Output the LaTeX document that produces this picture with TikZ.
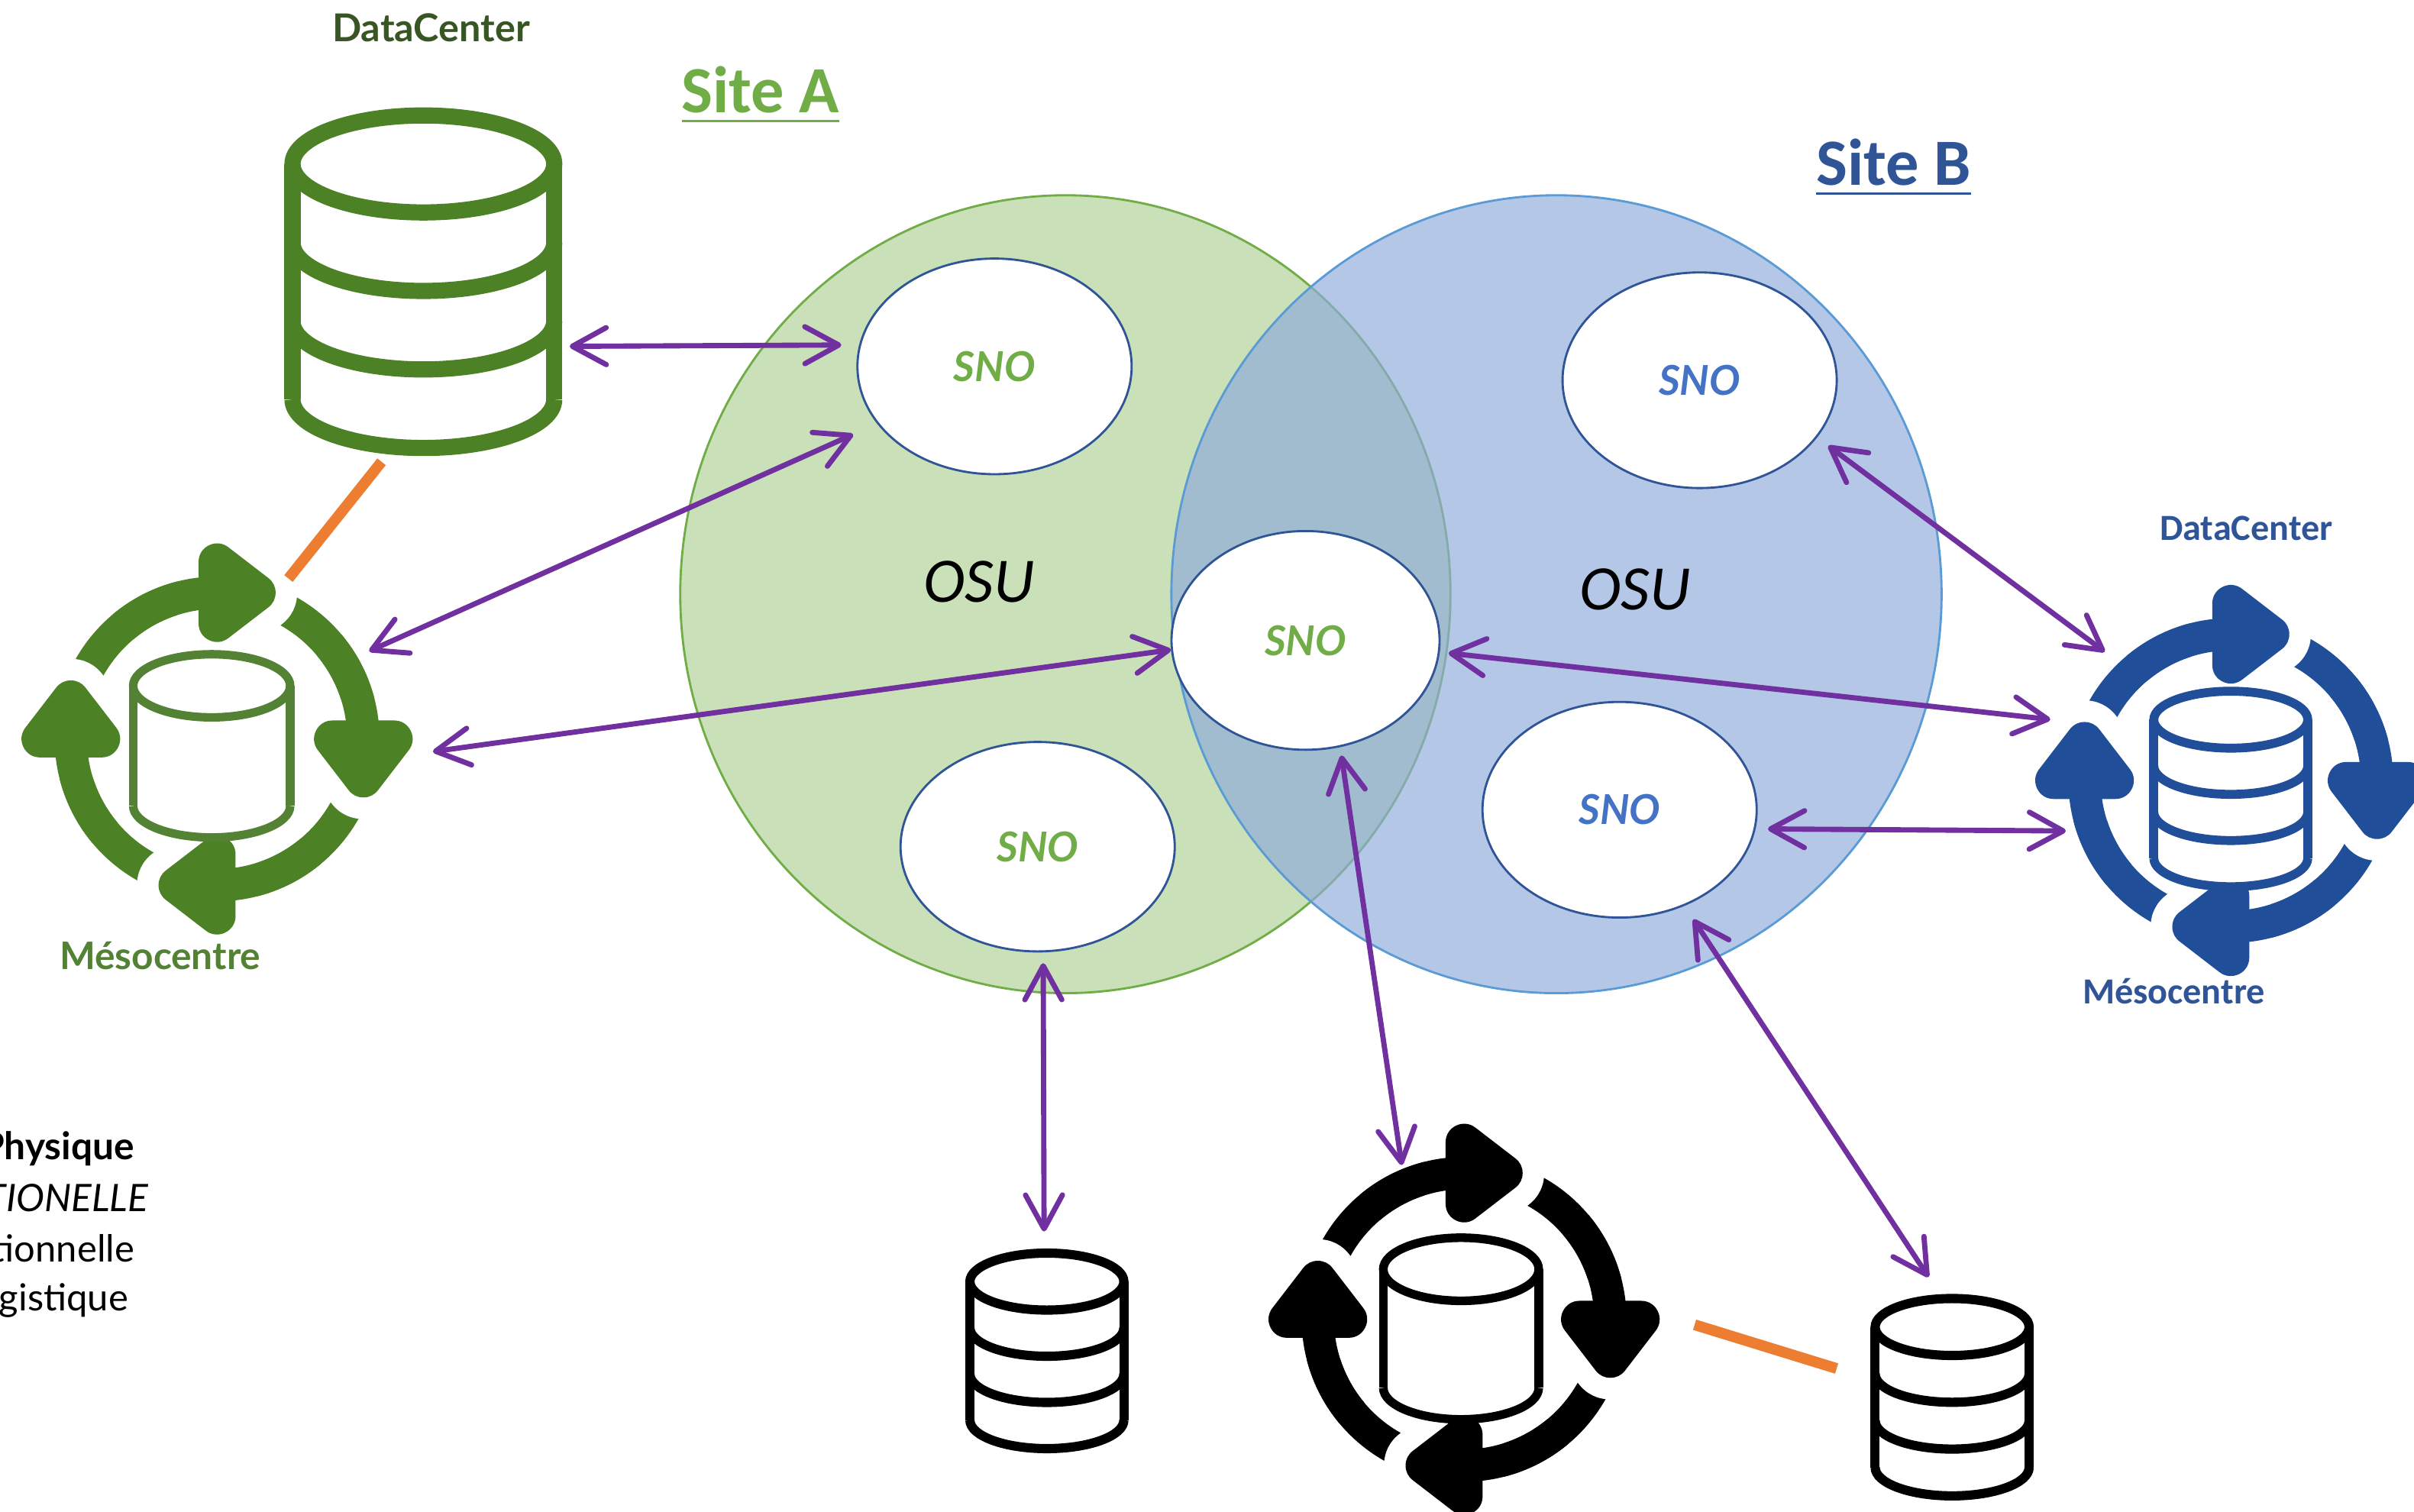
\documentclass[tikz,border=0pt]{standalone}
\usepackage{fontspec}
\setmainfont{Lato}
\newfontfamily\calfont{Carlito}
\usetikzlibrary{shapes.geometric,arrows.meta}

\definecolor{siteGreen}{HTML}{70AD47}
\definecolor{ringGreen}{HTML}{4C8225}
\definecolor{cylGreen}{HTML}{548235}
\definecolor{textGreen}{HTML}{375623}
\definecolor{siteBlue}{HTML}{2F5597}
\definecolor{ringBlue}{HTML}{204E99}
\definecolor{snoBlue}{HTML}{4472C4}
\definecolor{osuBlue}{HTML}{5B9BD5}
\definecolor{linkPurple}{HTML}{7030A0}
\definecolor{tieOrange}{HTML}{ED7D31}

\tikzset{
    osu/.style={ellipse, minimum width=5cm, minimum height=5.18cm, inner sep=0pt},
    sno/.style={ellipse, draw=siteBlue, line width=0.4pt, fill=white, minimum width=1.78cm, minimum height=1.4cm, inner sep=0pt, font=\fontsize{7.6}{10}\selectfont\bfseries\itshape},
    spot/.style={circle, inner sep=0pt, outer sep=0pt},
    box/.style={rectangle, inner sep=0pt, outer sep=0pt},
    link/.style={draw=linkPurple, line width=0.034cm, {Straight Barb[length=0.22cm,width=0.24cm,round]}-{Straight Barb[length=0.22cm,width=0.24cm,round]}},
    tie/.style={draw=tieOrange, line width=0.07cm},
    side/.style={inner sep=0pt, anchor=east, font=\fontsize{6.9}{8}\selectfont}
}

% cx, cy, colour
\newcommand{\cycleicon}[3]{
    \begin{scope}[shift={(#1,#2)}, x=0.01cm, y=0.01cm]
        \foreach \a in {0,90,180,270}
            \draw[rotate=\a, #3, line width=0.21cm] (75:95) arc[start angle=75, end angle=0, radius=95];
        \foreach \a in {0,90,180,270}
            \draw[rotate=\a, white, line width=0.52cm, line join=round] (75,0) -- (115,0) -- (95,-26) -- cycle;
        \foreach \a in {0,90,180,270} {
            \draw[rotate=\a, #3, line width=0.21cm] (40:95) arc[start angle=40, end angle=0, radius=95];
            \filldraw[rotate=\a, #3, line width=0.24cm, line join=round] (75,0) -- (115,0) -- (95,-26) -- cycle;
        }
    \end{scope}
}

% cx, top, half width, ellipse radius, section height, sections, line width, colour
\newcommand{\dbicon}[8]{
    \begin{scope}[shift={(#1,#2)}, x=0.01cm, y=0.01cm, draw=#8, line width=#7]
        \fill[white] (-#3,-#4) arc[start angle=180, end angle=0, x radius=#3, y radius=#4] -- (#3,-#4-#6*#5) arc[start angle=360, end angle=180, x radius=#3, y radius=#4] -- cycle;
        \draw (0,-#4) ellipse[x radius=#3, y radius=#4];
        \draw (-#3,-#4) -- (-#3,-#4-#6*#5);
        \draw (#3,-#4) -- (#3,-#4-#6*#5);
        \foreach \i in {1,...,#6}
            \draw (-#3,-#4-\i*#5) arc[start angle=180, end angle=360, x radius=#3, y radius=#4];
    \end{scope}
}

\begin{document}
\begin{tikzpicture}[x=0.01cm, y=-0.01cm]
    \useasboundingbox (0,0) rectangle (1568,982);

    % the two sites
    \node [osu, draw=siteGreen, fill=siteGreen!38] (osuA) at (692,386) {};
    \node [osu, draw=osuBlue, fill={rgb,255:red,143;green,171;blue,219}, fill opacity=0.67] (osuB) at (1011,386) {};

    \node [text=siteGreen, font=\fontsize{12.2}{14}\selectfont\calfont\bfseries] (siteA) at (494,62) {\underline{Site A}};
    \node [text=siteBlue, font=\fontsize{12.2}{14}\selectfont\calfont\bfseries] (siteB) at (1230,109) {\underline{Site B}};
    \node [font=\fontsize{11.7}{14}\selectfont\calfont\itshape] (osuLabelA) at (636,378) {OSU};
    \node [font=\fontsize{11.7}{14}\selectfont\calfont\itshape] (osuLabelB) at (1062,383) {OSU};

    \node [sno, text=siteGreen] (snoA1) at (646,238) {SNO};
    \node [sno, text=siteGreen, minimum width=1.74cm, minimum height=1.42cm] (snoA2) at (848,416) {SNO};
    \node [sno, text=siteGreen, minimum height=1.36cm] (snoA3) at (674,550) {SNO};
    \node [sno, text=snoBlue] (snoB1) at (1104,247) {SNO};
    \node [sno, text=snoBlue] (snoB2) at (1052,526) {SNO};

    % icons
    \dbicon{275}{75}{85}{31.5}{51}{3}{0.105cm}{ringGreen}
    \cycleicon{141}{480}{ringGreen}
    \dbicon{137.5}{425}{51}{20.5}{78}{1}{0.055cm}{cylGreen}
    \cycleicon{1449}{507}{ringBlue}
    \dbicon{1449}{449}{50}{18.5}{30}{3}{0.058cm}{ringBlue}
    \cycleicon{951}{857}{black}
    \dbicon{949}{804}{50.5}{20.5}{77}{1}{0.056cm}{black}
    \dbicon{680}{814}{50}{18.5}{30}{3}{0.06cm}{black}
    \dbicon{1268}{843.5}{50}{18.5}{30.4}{3}{0.06cm}{black}

    \node [box, minimum width=1.8cm, minimum height=2.26cm] (dcA) at (275,183) {};
    \node [box, minimum width=1.05cm, minimum height=1.31cm] (dbC1) at (680.5,876.5) {};
    \node [box, minimum width=1.06cm, minimum height=1.33cm] (dbC2) at (1268,907) {};
    \node [spot, minimum size=2.28cm] (mesoA) at (141,480) {};
    \node [spot, minimum size=2.24cm] (mesoB) at (1449,507) {};
    \node [spot, minimum size=2.16cm] (mesoC) at (951,857) {};

    % labels
    \node [text=textGreen, font=\fontsize{7.1}{8}\selectfont\bfseries] (labelDcA) at (280,18) {DataCenter};
    \node [text=cylGreen, font=\fontsize{7}{8}\selectfont\bfseries] (labelMesoA) at (104,621) {Mésocentre};
    \node [text=siteBlue, font=\fontsize{6.8}{8}\selectfont\calfont\bfseries] (labelDcB) at (1459,343) {DataCenter};
    \node [text=siteBlue, font=\fontsize{6.8}{8}\selectfont\calfont\bfseries] (labelMesoB) at (1412,644) {Mésocentre};

    \node [side, font=\fontsize{7}{8}\selectfont\bfseries] (legend1) at (88,746) {Physique};
    \node [side, font=\fontsize{7}{8}\selectfont\itshape] (legend2) at (97,778) {TIONELLE};
    \node [side] (legend3) at (88,811) {tionnelle};
    \node [side] (legend4) at (84,845) {gistique};

    % links
    \draw [link, shorten <=0.05cm, shorten >=0.115cm] (dcA.-25) -- (snoA1.171.5);
    \draw [link, shorten >=0.17cm] (mesoA.30) -- (snoA1.206);
    \draw [link, shorten <=0.27cm] (mesoA.-6) -- (snoA2.184);
    \draw [link, shorten <=0.07cm, shorten >=0.11cm] (snoA3.-87) -- (dbC1.92);
    \draw [link, shorten <=0.055cm] (snoA2.-72.7) -- (mesoC.112);
    \draw [link, shorten <=0.105cm, shorten >=0.13cm] (snoB2.-56.5) -- (dbC2.97);
    \draw [link, shorten <=0.08cm] (snoB2.-8.3) -- (mesoB.197);
    \draw [link, shorten <=0.057cm, shorten >=0.12cm] (snoA2.-5.6) -- (mesoB.160.7);
    \draw [link, shorten <=0.09cm, shorten >=0.05cm] (snoB1.-26.3) -- (mesoB.134);

    \draw [tie, shorten <=0.05cm] (dcA.-102) -- (mesoA.66);
    \draw [tie, shorten <=0.44cm, shorten >=0.23cm] (mesoC.5) -- (dbC2.168);
\end{tikzpicture}
\end{document}
